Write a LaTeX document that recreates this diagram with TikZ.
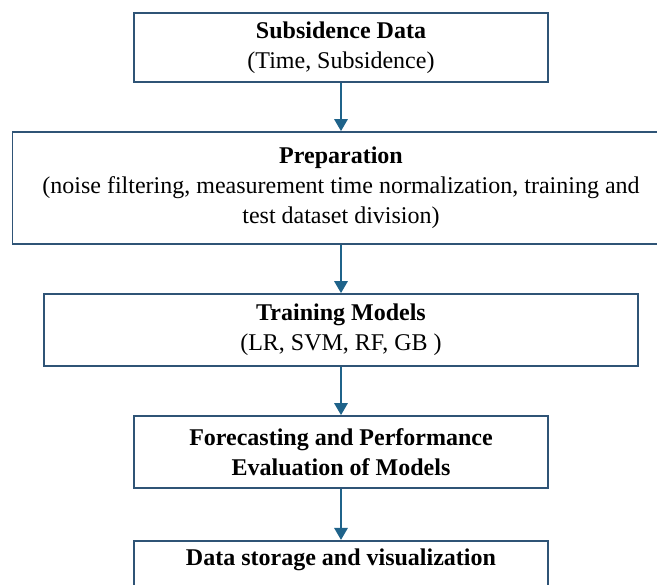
\documentclass[tikz,border=0pt]{standalone}
\usepackage{fontspec}
\setmainfont{Liberation Serif}
\usetikzlibrary{arrows.meta}
\definecolor{boxblue}{RGB}{47,84,118}
\definecolor{arrowblue}{RGB}{31,99,138}
\tikzset{
  stepbox/.style={draw=boxblue, line width=1.6pt, fill=white, align=center,
    font=\fontsize{24}{30}\selectfont, inner sep=0pt},
  flow/.style={-{Triangle[width=13pt,length=12pt]}, arrowblue, line width=2.8pt}
}

\begin{document}
\begin{tikzpicture}[x=1pt,y=-1pt]
  \useasboundingbox (0,0) rectangle (657,585);
  \clip (0,0) rectangle (657,585);

  \node[stepbox, minimum width=413.5pt, minimum height=69pt] (data) at (341,47.5)
    {\textbf{Subsidence Data}\\(Time, Subsidence)};
  \node[stepbox, minimum width=657pt, minimum height=112pt] (prep) at (341,188)
    {\textbf{Preparation}\\(noise filtering, measurement time normalization, training and\\test dataset division)};
  \node[stepbox, minimum width=594pt, minimum height=72pt] (train) at (341,330)
    {\textbf{Training Models}\\(LR, SVM, RF, GB )};
  \node[stepbox, minimum width=413.5pt, minimum height=72pt] (eval) at (341,452)
    {\textbf{Forecasting and Performance}\\\textbf{Evaluation of Models}};
  \node[stepbox, minimum width=413.5pt, anchor=north, inner ysep=10pt,
    text height=15pt, text depth=40pt] (store) at (341,540)
    {\textbf{Data storage and visualization}};

  \draw[flow] (data) -- (prep);
  \draw[flow] (prep) -- (train);
  \draw[flow] (train) -- (eval);
  \draw[flow] (eval) -- (store);
\end{tikzpicture}
\end{document}
